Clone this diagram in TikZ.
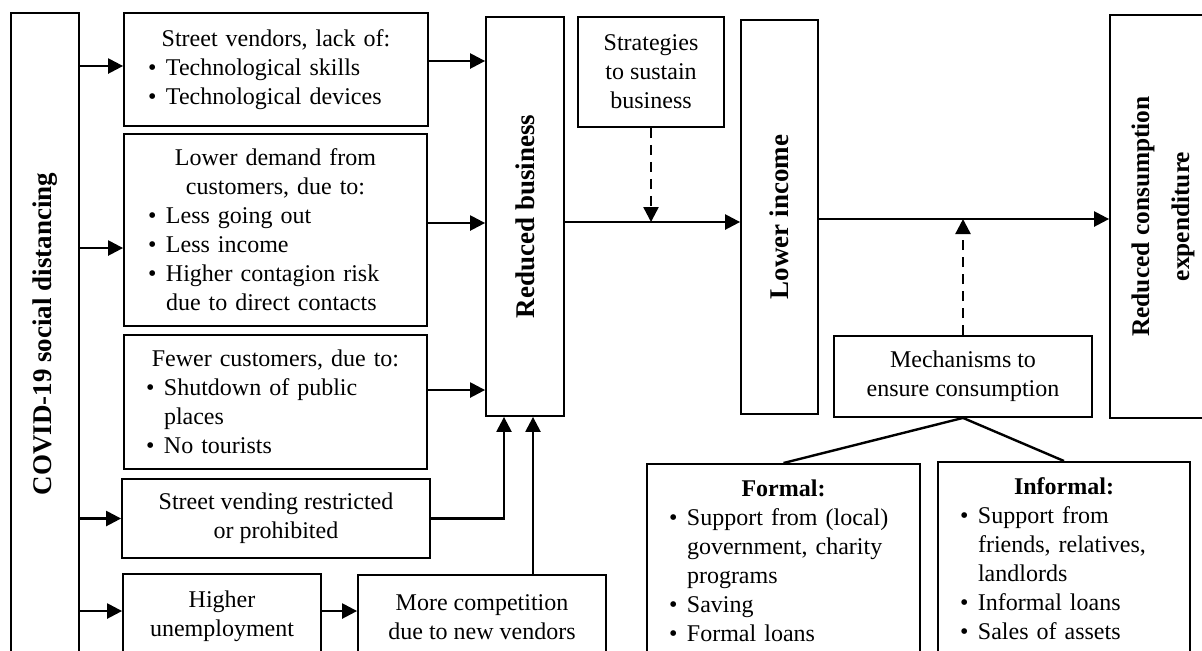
\documentclass[tikz,border=0pt]{standalone}
\usepackage{fontspec}
\setmainfont{Liberation Serif}
\usepackage{graphicx}
\usetikzlibrary{arrows.meta}

\newcommand{\itm}[1]{\par\hangindent=9pt\hangafter=1\noindent\makebox[9pt][l]{\textbullet}#1}
\newcommand{\vtext}[1]{\rotatebox{90}{\fontsize{13.5}{15}\selectfont\bfseries #1}}

\tikzset{
  box/.style={draw, line width=0.9pt, inner sep=0pt, align=center, font=\fontsize{12}{14.5}\selectfont},
  listbox/.style={box, inner xsep=12pt, align=left},
  arr/.style={-{Triangle[length=7.5pt,width=7.5pt]}, line width=1.2pt},
  dasharr/.style={arr, dash pattern=on 5pt off 3.5pt},
}

\begin{document}
\begin{tikzpicture}[x=0.5pt,y=-0.5pt]
  \useasboundingbox (0,0) rectangle (1202,650);
  \clip (0,0) rectangle (1202,650);
  % causes
  \node[box, minimum width=34pt, minimum height=321pt] (covid) at (45,334) {\vtext{COVID-19 social distancing}};
  \node[listbox, text width=128pt, minimum height=56.5pt] (sv) at (276,69.5) {\centering Street vendors, lack of:\par\raggedright
    \itm{Technological skills}
    \itm{Technological devices}\par};
  \node[listbox, text width=127.5pt, minimum height=96pt] (ld) at (275.5,230) {\centering Lower demand from\\customers, due to:\par\raggedright
    \itm{Less going out}
    \itm{Less income}
    \itm{Higher contagion risk\newline due to direct contacts}\par};
  \node[listbox, inner xsep=11pt, text width=129.5pt, minimum height=67pt] (fc) at (275.5,402) {\centering Fewer customers, due to:\par\raggedright
    \itm{Shutdown of public\newline places}
    \itm{No tourists}\par};
  \node[box, minimum width=154pt, minimum height=39.5pt] (sr) at (276,518.5) {Street vending restricted\\or prohibited};
  \node[box, minimum width=99pt, minimum height=42pt] (hu) at (222,616) {Higher\\unemployment};
  \node[box, minimum width=124pt, minimum height=42pt] (mc) at (482,617) {More competition\\due to new vendors};
  % chain
  \node[box, minimum width=39pt, minimum height=199.5pt] (rb) at (525,216.5) {\vtext{Reduced business}};
  \node[box, minimum width=73pt, minimum height=55pt] (st) at (651,72) {Strategies\\to sustain\\business};
  \node[box, minimum width=38.5pt, minimum height=197pt] (li) at (779.5,217) {\vtext{Lower income}};
  \node[box, minimum width=53pt, minimum height=201.5pt] (rce) at (1163,216.5) {\rotatebox{90}{\fontsize{12.7}{15}\selectfont\bfseries
    \begin{tabular}{@{}c@{}}Reduced consumption\\[5pt]expenditure\end{tabular}}};
  \node[box, minimum width=129pt, minimum height=40.5pt] (mech) at (963,376.5) {Mechanisms to\\ensure consumption};
  \node[listbox, inner xsep=11pt, inner ysep=8pt, text width=114.5pt, anchor=north] (formal) at (783.5,463) {\centering\textbf{Formal:}\par\raggedright
    \itm{Support from (local)\newline government, charity\newline programs}
    \itm{Saving}
    \itm{Formal loans}\par\vspace*{30pt}};
  \node[listbox, inner xsep=11pt, inner ysep=8pt, text width=104pt, anchor=north] (informal) at (1064,461) {\centering\textbf{Informal:}\par\raggedright
    \itm{Support from\newline friends, relatives,\newline landlords}
    \itm{Informal loans}
    \itm{Sales of assets}\par\vspace*{30pt}};
  % arrows
  \draw[arr] (covid.east |- 0,66) -- (sv.west |- 0,66);
  \draw[arr] (covid.east |- 0,248) -- (ld.west |- 0,248);
  \draw[arr] (covid.east |- sr.west) -- (sr.west);
  \draw[arr] (covid.east |- 0,611) -- (hu.west |- 0,611);
  \draw[arr] (hu.east |- 0,611) -- (mc.west |- 0,611);
  \draw[arr] (sv.east |- 0,61) -- (rb.west |- 0,61);
  \draw[arr] (ld.east |- 0,223) -- (rb.west |- 0,223);
  \draw[arr] (fc.east |- 0,390) -- (rb.west |- 0,390);
  \draw[arr] (sr.east) -| ([xshift=-10.5pt]rb.south);
  \draw[arr] ([xshift=4pt]rb.south |- mc.north) -- ([xshift=4pt]rb.south);
  \draw[arr] (rb.east |- 0,222) -- (li.west |- 0,222);
  \draw[dasharr] (st.south) -- (st.south |- 0,222);
  \draw[arr] (li.east |- 0,219) -- (rce.west |- 0,219);
  \draw[dasharr] (mech.north) -- (mech.north |- 0,219);
  \draw[line width=1.2pt] (mech.south) -- (formal.north);
  \draw[line width=1.2pt] (mech.south) -- (informal.north);
\end{tikzpicture}
\end{document}
